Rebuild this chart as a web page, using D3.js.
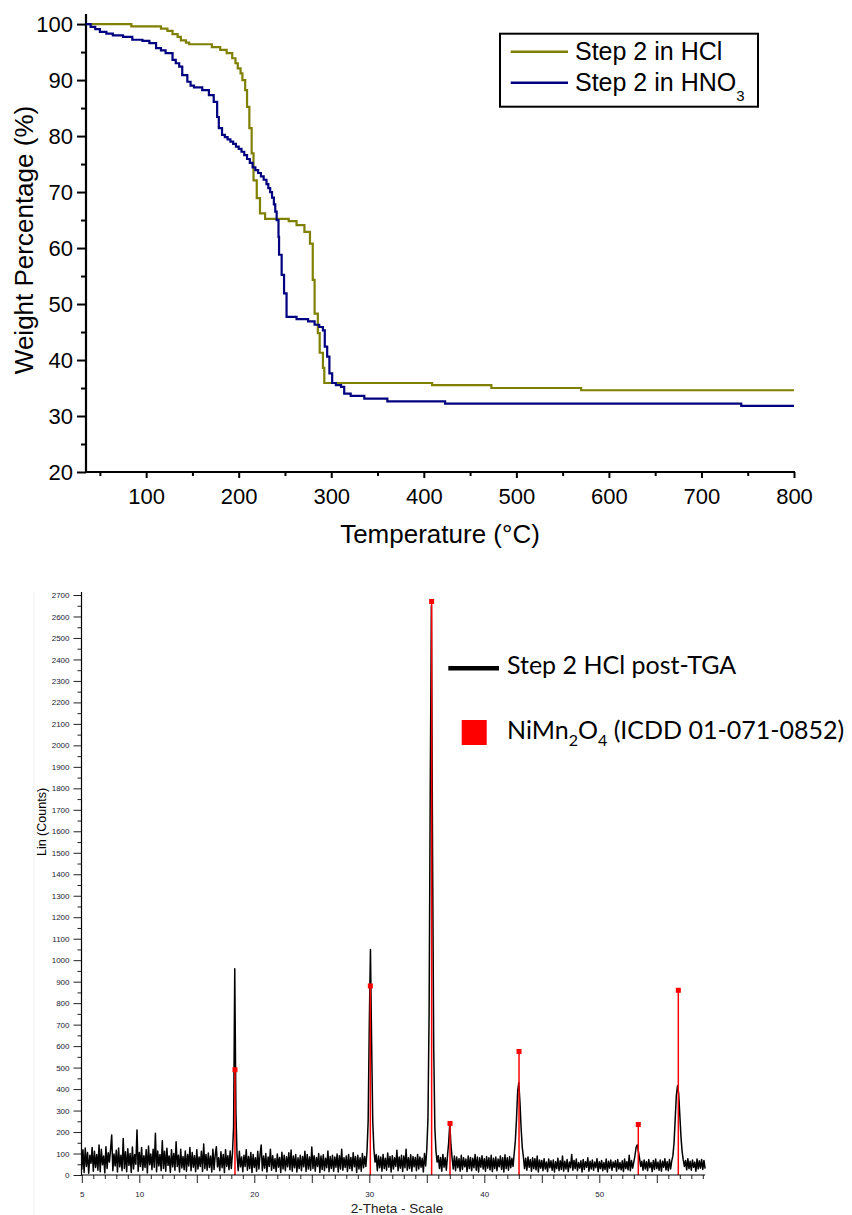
<!DOCTYPE html>
<html><head><meta charset="utf-8">
<script src="https://cdn.jsdelivr.net/npm/d3@7"></script>
<style>body{margin:0;background:#fff} svg{display:block}</style>
</head><body>
<svg id="c" width="852" height="1215"></svg>
<script>
// ---------- TGA data (step points) ----------
const tgaTempHCl   = [35,84,116,123,128.5,134,137.5,143,146.5,171,180,187,193,196.5,199,202,204,207,209,211.5,214,216,219.5,223,228.5,254,262.5,271,277,280,282,285.5,287.5,291,292.5,409,473,570,800];
const tgaWeightHCl = [100,99.6,99.2,98.8,98.2,97.7,97.1,96.7,96.4,95.9,95.4,94.8,93.9,93.0,92.1,91.2,90.0,88.2,85.2,81.4,76.9,72.1,68.9,66.2,65.2,64.8,64.1,62.9,60.8,54.3,48.3,44.8,41.3,38.6,35.9,35.5,35.0,34.6,34.6];
const tgaTempHNO3   = [35,40,45,50,57,64,75,85,96,103.5,110.7,116,121,128.5,132,135.7,139,144.5,148,151.7,160.6,167.8,173,176.7,178.5,182,185,188,191,194,197,200,203,206,209,212,215,218,221,224,227,230,232,234,236,238,239.5,241,243,243.6,246.4,249,251.7,262.5,275,282,287,291,293,295.6,298,301,305,310.6,314,321,335.7,360.6,423,743,800];
const tgaWeightHNO3 = [100,99.5,99.1,98.6,98.3,98.0,97.7,97.2,97.0,96.6,95.7,95.3,94.8,93.6,93.0,92.4,90.9,89.7,89.0,88.7,88.2,87.3,86.1,83.4,81.4,80.2,79.8,79.4,79.0,78.6,78.1,77.7,77.2,76.6,75.9,75.2,74.4,73.9,73.4,72.8,72.2,71.4,70.7,70.0,69.0,67.8,66.5,65.0,62.0,58.8,55.2,51.9,47.7,47.3,46.9,46.3,45.9,45.3,42.4,40.6,37.6,35.9,35.5,35.2,34.0,33.6,33.1,32.6,32.2,31.8,31.8];
const tgaSeries = ["Step 2 in HCl", "Step 2 in HNO"];
const tgaXTicks = [100,200,300,400,500,600,700,800];
const tgaXMinor = [50,150,250,350,450,550,650,750];
const tgaYTicks = [20,30,40,50,60,70,80,90,100];
const tgaYMinor = [25,35,45,55,65,75,85,95];

// ---------- XRD data ----------
const xrdStart = 5.0, xrdStep = 0.1;
const xrdCounts = [
25,118,12,126,40,105,8,92,55,128,
18,110,35,96,22,140,15,120,48,88,
10,132,30,104,60,118,186,20,98,42,
115,14,126,38,92,20,170,30,108,15,
122,45,100,12,130,28,95,50,210,18,
105,40,128,22,90,35,118,10,135,48,
98,25,120,36,194,15,112,42,96,20,
160,30,110,18,125,45,88,12,118,38,
100,22,155,40,92,14,120,33,86,25,
112,18,95,42,128,20,105,36,90,15,
118,28,84,40,110,16,144,30,96,22,
102,35,88,14,120,26,92,132,38,80,
20,108,34,96,12,118,40,90,25,112,
30,100,225,960,300,90,20,110,38,84,
15,92,40,118,22,86,30,105,12,96,
35,80,18,110,28,94,140,20,88,32,
100,14,84,40,120,22,90,30,76,16,
98,36,82,12,106,28,92,20,85,38,
104,25,116,18,88,34,95,14,80,30,
92,20,86,38,110,16,96,28,84,22,
130,30,90,18,82,40,100,12,88,26,
94,20,78,34,112,15,86,30,92,18,
84,36,98,14,90,28,120,22,80,35,
88,16,96,30,82,20,104,38,86,12,
92,28,80,18,100,34,86,40,110,250,
700,1050,620,250,120,60,95,20,88,34,
84,18,96,30,78,22,102,36,86,14,
90,28,80,40,115,20,84,32,92,16,
88,34,120,22,80,30,94,18,86,38,
82,20,96,28,84,36,78,14,100,42,
120,260,750,1800,2650,1500,600,220,110,60,
90,30,82,18,96,36,80,22,90,150,
240,140,80,28,88,20,84,34,76,18,
92,26,80,38,74,16,88,30,82,20,
78,34,96,22,84,14,80,36,90,28,
76,18,86,32,80,24,92,16,78,30,
84,20,74,38,88,26,80,14,94,30,
80,22,86,34,78,40,100,160,260,390,
430,340,220,130,85,30,78,22,84,36,
72,18,80,30,76,24,88,14,70,32,
68,20,76,28,60,16,74,34,66,22,
70,14,62,30,78,20,66,26,88,18,
64,28,72,16,60,34,96,22,68,30,
74,20,58,32,66,14,72,26,62,36,
80,18,64,28,70,22,60,34,76,16,
62,30,68,20,58,26,74,14,64,32,
70,22,60,36,66,18,72,28,58,24,
66,16,74,30,62,24,92,20,68,32,
60,90,128,140,110,78,40,64,22,70,
28,62,20,72,34,58,16,68,26,74,
30,60,22,70,18,64,36,76,24,62,
20,72,28,66,90,150,260,370,415,380,
280,180,110,70,40,68,24,76,30,64,
22,70,36,60,18,74,28,66,32,72,
26,68,30];
const refTheta = [18.32, 30.09, 35.42, 37.02, 43.02, 53.39, 56.87];
const refIntensity = [490, 880, 2670, 240, 575, 235, 860];
const xrdYTicks = [0,100,200,300,400,500,600,700,800,900,1000,1100,1200,1300,1400,1500,1600,1700,1800,1900,2000,2100,2200,2300,2400,2500,2600,2700];
const xrdXLabels = [5,10,20,30,40,50];

const svg = d3.select("#c");
const AR = "'Liberation Sans', Arial, sans-serif";

// ================= TOP: TGA =================
const tx = d3.scaleLinear().domain([35, 800]).range([86, 794]);
const ty = d3.scaleLinear().domain([20, 101.8]).range([472, 14]);
const gTop = svg.append("g");

gTop.append("g").attr("transform","translate(86,0)")
  .call(d3.axisLeft(ty).tickValues(tgaYMinor).tickSize(5).tickFormat(""))
  .call(g=>g.select(".domain").remove());
gTop.append("g").attr("transform","translate(0,472)")
  .call(d3.axisBottom(tx).tickValues(tgaXMinor).tickSize(4).tickFormat(""))
  .call(g=>g.select(".domain").remove());
gTop.append("g").attr("transform","translate(86,0)")
  .call(d3.axisLeft(ty).tickValues(tgaYTicks).tickSize(9).tickPadding(4).tickSizeOuter(0));
gTop.append("g").attr("transform","translate(0,472)")
  .call(d3.axisBottom(tx).tickValues(tgaXTicks).tickSize(6).tickPadding(10).tickSizeOuter(0));
gTop.selectAll(".tick line").attr("stroke","#000").attr("stroke-width",2);
gTop.selectAll(".domain").remove();
gTop.append("line").attr("x1",86).attr("x2",86).attr("y1",14).attr("y2",473).attr("stroke","#000").attr("stroke-width",2.2);
gTop.append("line").attr("x1",85).attr("x2",tx(800)+1).attr("y1",472).attr("y2",472).attr("stroke","#000").attr("stroke-width",2.2);
gTop.selectAll(".tick text").attr("font-family",AR).attr("font-size",22).attr("fill","#000");

const lineGen = d3.line().curve(d3.curveStepAfter);
function pts(t,w){ return t.map((v,i)=>[tx(v), ty(w[i])]); }
gTop.append("path").attr("d", lineGen(pts(tgaTempHCl,tgaWeightHCl)))
  .attr("fill","none").attr("stroke","#808000").attr("stroke-width",2.2);
gTop.append("path").attr("d", lineGen(pts(tgaTempHNO3,tgaWeightHNO3)))
  .attr("fill","none").attr("stroke","#000080").attr("stroke-width",2.2);

gTop.append("text").attr("x",440).attr("y",543).attr("text-anchor","middle")
  .attr("font-family",AR).attr("font-size",26).text("Temperature (°C)");
gTop.append("text").attr("transform","translate(33,240) rotate(-90)").attr("text-anchor","middle")
  .attr("font-family",AR).attr("font-size",26).text("Weight Percentage (%)");

const lg = gTop.append("g");
lg.append("rect").attr("x",500).attr("y",33.7).attr("width",258).attr("height",73)
  .attr("fill","#fff").attr("stroke","#000").attr("stroke-width",2);
lg.append("line").attr("x1",510.7).attr("x2",568).attr("y1",51.7).attr("y2",51.7).attr("stroke","#808000").attr("stroke-width",2.5);
lg.append("line").attr("x1",510.7).attr("x2",568).attr("y1",82.7).attr("y2",82.7).attr("stroke","#000080").attr("stroke-width",2.5);
lg.append("text").attr("x",575).attr("y",59.5).attr("font-family",AR).attr("font-size",25).text(tgaSeries[0]);
const t2 = lg.append("text").attr("x",575).attr("y",90.5).attr("font-family",AR).attr("font-size",25);
t2.append("tspan").text(tgaSeries[1]);
t2.append("tspan").attr("font-size",15).attr("dy",10).text("3");

// ================= BOTTOM: XRD =================
const bx = d3.scaleLinear().domain([5, 59.2]).range([81.8, 81.8 + 54.2*11.5]);
const by = d3.scaleLinear().domain([0, 2700]).range([1175, 595]);
const gBot = svg.append("g");

gBot.append("line").attr("x1",34).attr("x2",34).attr("y1",592).attr("y2",1215).attr("stroke","#eeeeee").attr("stroke-width",1);

const minorY = d3.range(50, 2700, 100);
gBot.append("g").attr("transform","translate(81.5,0)")
  .call(d3.axisLeft(by).tickValues(minorY).tickSize(4).tickFormat(""))
  .call(g=>g.select(".domain").remove());
gBot.append("g").attr("transform","translate(81.5,0)")
  .call(d3.axisLeft(by).tickValues(xrdYTicks).tickSize(8).tickPadding(4).tickSizeOuter(0).tickFormat(d3.format("d")))
  .call(g=>g.select(".domain").remove());
const minorX = d3.range(6, 60, 1).filter(v=>v%5!==0);
gBot.append("g").attr("transform","translate(0,1175)")
  .call(d3.axisBottom(bx).tickValues(minorX).tickSize(4).tickFormat(""))
  .call(g=>g.select(".domain").remove());
gBot.append("g").attr("transform","translate(0,1175)")
  .call(d3.axisBottom(bx).tickValues([5,10,15,20,25,30,35,40,45,50,55]).tickSize(8).tickFormat(""))
  .call(g=>g.select(".domain").remove());
gBot.append("g").attr("transform","translate(0,1175)")
  .call(d3.axisBottom(bx).tickValues(xrdXLabels).tickSize(0).tickPadding(16).tickFormat(d3.format("d")))
  .call(g=>g.select(".domain").remove());
gBot.selectAll(".tick line").attr("stroke","#222").attr("stroke-width",1);
gBot.selectAll(".tick text").attr("font-family",AR).attr("font-size",8).attr("fill","#223");

const xrdPts = xrdCounts.map((c,i)=>[bx(xrdStart + i*xrdStep), by(c)]);
gBot.append("path").attr("d", d3.line()(xrdPts)).attr("fill","none").attr("stroke","#000").attr("stroke-width",1.5).attr("stroke-linejoin","round");

refTheta.forEach((t,i)=>{
  gBot.append("line").attr("x1",bx(t)).attr("x2",bx(t)).attr("y1",by(0)).attr("y2",by(refIntensity[i]))
    .attr("stroke","#ff0000").attr("stroke-width",1.5);
  gBot.append("rect").attr("x",bx(t)-2.5).attr("y",by(refIntensity[i])-2.5).attr("width",5).attr("height",5).attr("fill","#ff0000");
});

gBot.append("line").attr("x1",81.5).attr("x2",81.5).attr("y1",592).attr("y2",1175.5).attr("stroke","#000").attr("stroke-width",1.2);
gBot.append("line").attr("x1",81).attr("x2",bx(59.2)).attr("y1",1175).attr("y2",1175).attr("stroke","#000").attr("stroke-width",1.2);

gBot.append("text").attr("transform","translate(46,822) rotate(-90)").attr("text-anchor","middle")
  .attr("font-family",AR).attr("font-size",12.5).text("Lin (Counts)");
gBot.append("text").attr("x",397).attr("y",1213).attr("text-anchor","middle")
  .attr("font-family",AR).attr("font-size",13.5).attr("fill","#222").text("2-Theta - Scale");

const CAL = "Lato, 'Open Sans', sans-serif";
gBot.append("line").attr("x1",448.3).attr("x2",499).attr("y1",668.3).attr("y2",668.3).attr("stroke","#000").attr("stroke-width",4.5);
gBot.append("text").attr("x",507).attr("y",674).attr("font-family",CAL).attr("font-size",25).text("Step 2 HCl post-TGA");
gBot.append("rect").attr("x",461.7).attr("y",720).attr("width",25).attr("height",25).attr("fill","#ff0000");
const nt = gBot.append("text").attr("x",507).attr("y",738.5).attr("font-family",CAL).attr("font-size",25);
nt.append("tspan").text("NiMn");
nt.append("tspan").attr("font-size",16).attr("dy",7).text("2");
nt.append("tspan").attr("dy",-7).text("O");
nt.append("tspan").attr("font-size",16).attr("dy",7).text("4");
nt.append("tspan").attr("dy",-7).text(" (ICDD 01-071-0852)");
</script>
</body></html>
